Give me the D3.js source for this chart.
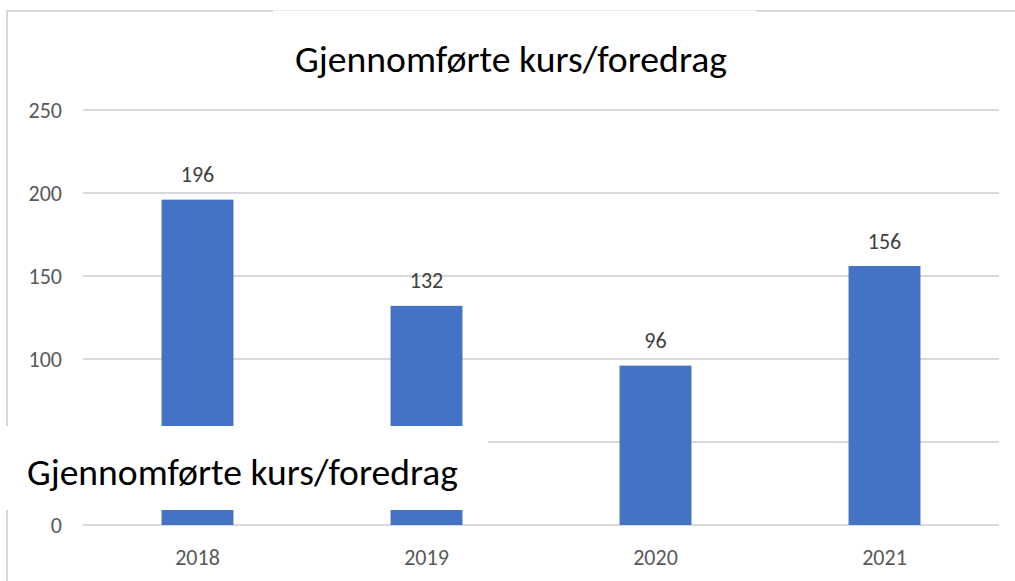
<!DOCTYPE html>
<html>
<head>
<meta charset="utf-8">
<script src="https://cdn.jsdelivr.net/npm/d3@7"></script>
<style>
  html, body { margin: 0; padding: 0; background: #fff; }
  svg { display: block; }
  text { font-family: Carlito, Lato, "Open Sans", sans-serif; }
</style>
</head>
<body>
<svg id="chart" width="1015" height="581"></svg>
<script>
const title = "Gjennomførte kurs/foredrag";
const categories = ["2018", "2019", "2020", "2021"];
const values = [196, 132, 96, 156];
const yTicks = [0, 50, 100, 150, 200, 250];

const W = 1015, H = 581;
const svg = d3.select("#chart");

const x = d3.scaleBand().domain(categories).range([83, 999]).paddingInner(0.686).paddingOuter(0.343);
const y = d3.scaleLinear().domain([0, 250]).range([525, 110]);

// Overlay box (a pasted white patch in the reference)
const box = { x: 0, y: 426, w: 488, h: 84 };

function fitWidth(sel, target) {
  const node = sel.node();
  let fs = parseFloat(sel.attr("font-size"));
  for (let i = 0; i < 3; i++) {
    const w = node.getComputedTextLength();
    if (w > 0) { fs = fs * target / w; sel.attr("font-size", fs); }
  }
}

// Frame lines
svg.append("line").attr("x1", 7).attr("x2", 273).attr("y1", 11).attr("y2", 11)
  .attr("stroke", "#d9d9d9").attr("stroke-width", 2);
svg.append("line").attr("x1", 273).attr("x2", 756).attr("y1", 10.5).attr("y2", 10.5)
  .attr("stroke", "#ebebeb").attr("stroke-width", 1);
svg.append("line").attr("x1", 756).attr("x2", W).attr("y1", 11).attr("y2", 11)
  .attr("stroke", "#d9d9d9").attr("stroke-width", 2);
svg.append("line").attr("x1", 7).attr("x2", 7).attr("y1", 10).attr("y2", H)
  .attr("stroke", "#d9d9d9").attr("stroke-width", 2);

// Gridlines
svg.append("g").selectAll("line").data(yTicks).join("line")
  .attr("x1", 83).attr("x2", 999)
  .attr("y1", d => y(d)).attr("y2", d => y(d))
  .attr("stroke", "#d9d9d9").attr("stroke-width", 2);

// Y tick labels (those under the white patch are not visible in the reference)
svg.append("g").selectAll("text")
  .data(yTicks.filter(d => !(y(d) > box.y && y(d) < box.y + box.h)))
  .join("text")
  .attr("x", 62).attr("y", d => y(d))
  .attr("dy", "0.35em")
  .attr("text-anchor", "end")
  .attr("font-size", 22)
  .attr("fill", "#595959")
  .text(d => d);

// Bars
svg.append("g").selectAll("rect").data(values).join("rect")
  .attr("x", (d, i) => x(categories[i]))
  .attr("width", x.bandwidth())
  .attr("y", d => y(d))
  .attr("height", d => y(0) - y(d))
  .attr("fill", "#4472C4");

// Bar value labels
svg.append("g").selectAll("text").data(values).join("text")
  .attr("x", (d, i) => x(categories[i]) + x.bandwidth() / 2)
  .attr("y", d => y(d) - 17.5)
  .attr("text-anchor", "middle")
  .attr("font-size", 22)
  .attr("fill", "#404040")
  .text(d => d);

// X labels
svg.append("g").selectAll("text").data(categories).join("text")
  .attr("x", d => x(d) + x.bandwidth() / 2)
  .attr("y", 565)
  .attr("text-anchor", "middle")
  .attr("font-size", 22)
  .attr("fill", "#595959")
  .text(d => d);

// Title
const t = svg.append("text")
  .attr("x", 511).attr("y", 72)
  .attr("text-anchor", "middle")
  .attr("font-size", 34)
  .attr("fill", "#000")
  .text(title);
fitWidth(t, 432);

// White overlay box with duplicate title
svg.append("rect").attr("x", box.x).attr("y", box.y).attr("width", box.w).attr("height", box.h)
  .attr("fill", "#fff");
const t2 = svg.append("text")
  .attr("x", 27).attr("y", 485)
  .attr("text-anchor", "start")
  .attr("font-size", 34)
  .attr("fill", "#000")
  .text(title);
fitWidth(t2, 431);
</script>
</body>
</html>
